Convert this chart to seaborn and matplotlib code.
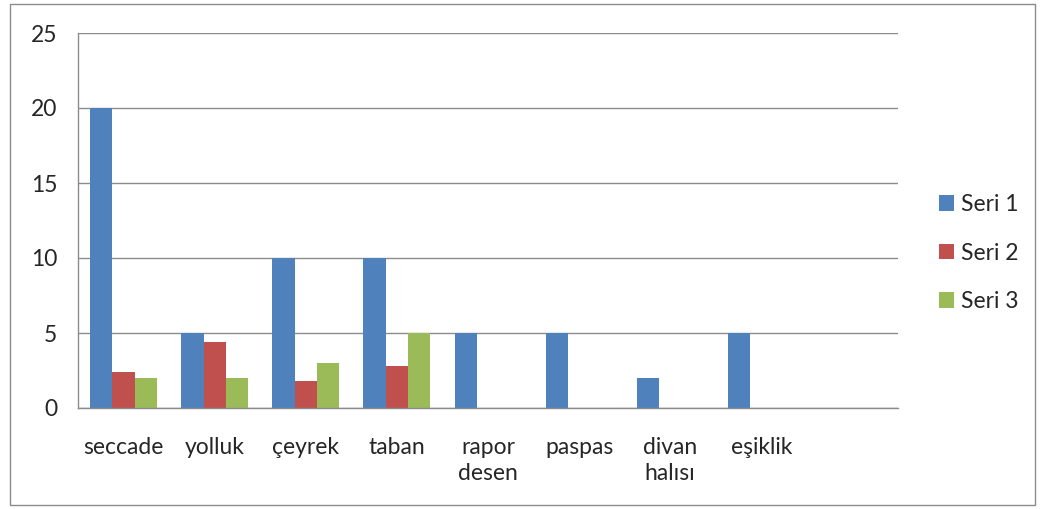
import pandas as pd
import seaborn as sns
import matplotlib.pyplot as plt
from matplotlib.patches import Rectangle

categories = ['seccade', 'yolluk', 'çeyrek', 'taban', 'rapor\ndesen', 'paspas', 'divan\nhalısı', 'eşiklik', '']
seri1 = [20, 5, 10, 10, 5, 5, 2, 5, None]
seri2 = [2.4, 4.4, 1.8, 2.8, None, None, None, None, None]
seri3 = [2, 2, 3, 5, None, None, None, None, None]
series_names = ['Seri 1', 'Seri 2', 'Seri 3']
colors = ['#4F81BD', '#C0504D', '#9BBB59']

rows = []
for name, vals in zip(series_names, [seri1, seri2, seri3]):
    for c, v in zip(categories, vals):
        rows.append({'kategori': c, 'seri': name, 'deger': v})
df = pd.DataFrame(rows)

sns.set_style('white')
plt.rcParams['font.family'] = ['Lato', 'DejaVu Sans']

fig = plt.figure(figsize=(10.45, 5.09), dpi=100)
ax = fig.add_axes([78/1045, 101/509, 820/1045, 375/509])

sns.barplot(data=df, x='kategori', y='deger', hue='seri', order=categories,
            hue_order=series_names, palette=colors, width=0.735, saturation=1,
            errorbar=None, linewidth=0, ax=ax)

ax.set_ylim(0, 25)
ax.set_xlim(-0.5, len(categories) - 0.5)
ax.set_yticks(range(0, 26, 5))
ax.yaxis.grid(True, color='#8c8c8c', linewidth=1)
ax.set_axisbelow(True)
for s in ['top', 'right']:
    ax.spines[s].set_visible(False)
for s in ['left', 'bottom']:
    ax.spines[s].set_color('#8c8c8c')
    ax.spines[s].set_linewidth(1)
ax.set_xlabel('')
ax.set_ylabel('')
ax.tick_params(axis='y', length=6, color='#8c8c8c', labelsize=16.5, pad=9)
ax.tick_params(axis='x', which='major', length=0, labelsize=16.5, pad=21)
ax.set_xticks([i - 0.5 for i in range(len(categories) + 1)], minor=True)
ax.tick_params(axis='x', which='minor', length=6, color='#8c8c8c')
for t in ax.get_xticklabels():
    t.set_verticalalignment('top')
    t.set_linespacing(1.3)

ax.legend(loc='center left', bbox_to_anchor=(939/1045, 256/509), bbox_transform=fig.transFigure,
          frameon=False, fontsize=16.5, handlelength=0.65, handleheight=0.65,
          labelspacing=1.2, handletextpad=0.3, borderpad=0, borderaxespad=0)

fig.patches.append(Rectangle((10/1045, 4/509), 1025/1045, 501/509, transform=fig.transFigure,
                             fill=False, edgecolor='#8c8c8c', linewidth=1))

fig.savefig('out.png', dpi=100)
